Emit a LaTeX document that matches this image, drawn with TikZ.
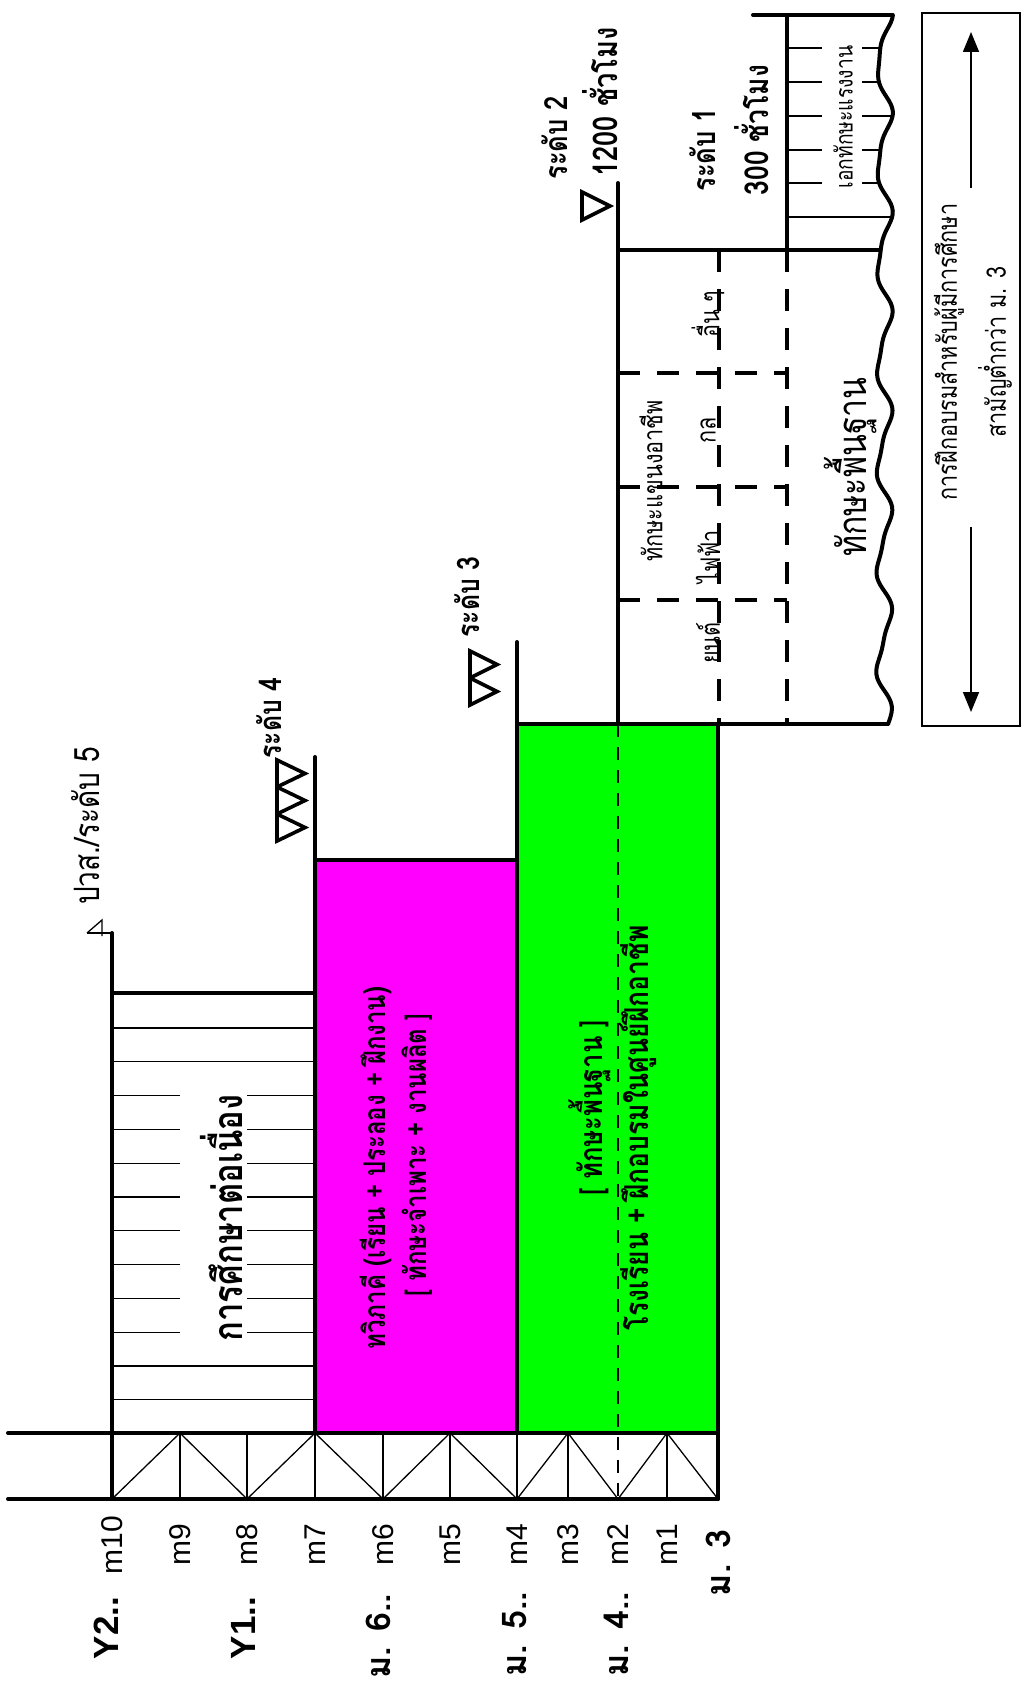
\documentclass[tikz,border=0pt]{standalone}
\usepackage{fontspec}
\usepackage{graphicx}
\setmainfont{Liberation Sans}
\newfontfamily\thai[Script=Thai]{Loma}
\usetikzlibrary{arrows.meta}
\definecolor{mag}{RGB}{255,0,255}
\definecolor{grn}{RGB}{0,255,0}
\newcommand\sq[1]{\scalebox{0.8}[1]{#1}}
\begin{document}
\begin{tikzpicture}[x=0.5pt,y=-0.5pt,
 thk/.style={line width=2pt, line cap=round},
 thn/.style={line width=0.65pt},
 dsh/.style={line width=2pt, dash pattern=on 11pt off 8.5pt},
 dthin/.style={line width=0.65pt, dash pattern=on 6.5pt off 5pt},
 tri/.style={line width=1.8pt, line join=miter},
 lbl/.style={rotate=90, inner sep=0pt, align=center},
 mlab/.style={lbl, font=\fontsize{15}{18}\selectfont},
 ylab/.style={lbl, font=\bfseries\fontsize{17.5}{21}\selectfont},
 tlab/.style={lbl, font=\thai\bfseries\fontsize{17}{20}\selectfont},
 tb/.style={lbl, font=\thai\bfseries\fontsize{#1}{#1}\selectfont},
 tn/.style={lbl, font=\thai\fontsize{#1}{#1}\selectfont},
]
\useasboundingbox (0,0) rectangle (1024,1686);
% fills
\fill[mag] (315,860) rectangle (517,1433);
\fill[grn] (517,724) rectangle (718,1433);
% left hatched box
\foreach \k in {0,1,10,11} \draw[thn] (112,{1028+33.8*\k}) -- (315,{1028+33.8*\k});
\foreach \k in {2,...,9} {\draw[thn] (112,{1028+33.8*\k}) -- (180,{1028+33.8*\k}); \draw[thn] (247,{1028+33.8*\k}) -- (315,{1028+33.8*\k});}
% truss
\foreach \xx in {180,247,315,383,450,517,568,667} \draw[thn] (\xx,1433) -- (\xx,1499);
\draw[thn] (112,1499) -- (180,1433) -- (247,1499) -- (315,1433) -- (383,1499) -- (450,1433) -- (517,1499) -- (568,1433) -- (618,1499) -- (667,1433) -- (718,1499);
\draw[dthin] (618,724) -- (618,1499);
% main thick lines
\draw[thk] (8,1433) -- (718,1433);
\draw[thk] (8,1499) -- (718,1499);
\draw[thk] (112,933) -- (112,1499);
\draw[thk] (718,724) -- (718,1499);
\draw[thk] (112,993) -- (315,993);
\draw[thk] (315,757) -- (315,1433);
\draw[thk] (315,860) -- (517,860);
\draw[thk] (517,642) -- (517,1433);
\draw[thk] (618,183) -- (618,724);
\draw[thk] (787,15) -- (787,250);
\draw[dsh] (719,250) -- (719,724);
\draw[dsh] (787,250) -- (787,724);
\foreach \yy in {373,487,600} \draw[dsh] (618,\yy) -- (787,\yy);
% right region clipped at wave
\begin{scope}
\clip (500,0) -- plot[variable=\t,domain=0:740,samples=200] ({884+7*cos((\t-15)*3.6)+2*sin(\t*7.3)},\t) -- (500,740) -- cycle;
\draw[thk] (517,724) -- (950,724);
\draw[thk] (618,250) -- (950,250);
\draw[thk] (753,15) -- (950,15);
\foreach \yy in {48,82,116,150,183} {\draw[thn] (787,\yy) -- (822,\yy); \draw[thn] (862,\yy) -- (950,\yy);}
\draw[thn] (787,217) -- (950,217);
\end{scope}
\draw[thk] plot[variable=\t,domain=15:724,samples=200,smooth] ({884+7*cos((\t-15)*3.6)+2*sin(\t*7.3)},\t);
% level markers
\draw[tri] (582,192) -- (610,206) -- (582,220) -- cycle;
\foreach \k in {0,1} \draw[tri] (470,{651+27*\k}) -- (497,{664.5+27*\k}) -- (470,{678+27*\k}) -- cycle;
\foreach \k in {0,1,2} \draw[tri] (277,{760+27*\k}) -- (305,{773.5+27*\k}) -- (277,{787+27*\k}) -- cycle;
\draw[thn] (87,933) -- (102,920) -- (102,936);
\draw[thn] (87,933) -- (112,933);
% right box
\draw[line width=0.8pt] (922,13) rectangle (1020,726);
\coordinate (a1) at (971,188); \coordinate (a1e) at (971,32);
\coordinate (a2) at (971,527); \coordinate (a2e) at (971,712);
\draw[line width=0.8pt,-{Triangle[length=10pt,width=8pt]}] (a1) -- (a1e);
\draw[line width=0.8pt,-{Triangle[length=10pt,width=8pt]}] (a2) -- (a2e);
% texts
\node[tb=20.5] (edu) at (222,1218) {\sq{การศึกษาต่อเนื่อง}};
\node[tb=15] (dvt1) at (376,1168) {\sq{ทวิภาคี (เรียน + ประลอง + ฝึกงาน)}};
\node[tb=15] (dvt2) at (417,1155) {\sq{[ ทักษะจำเพาะ + งานผลิต ]}};
\node[tb=16] (g1) at (590,1108) {\sq{[ ทักษะพื้นฐาน ]}};
\node[tb=16.5] (g2) at (638,1128) {\sq{โรงเรียน + ฝึกอบรมในศูนย์ฝึกอาชีพ}};
\node[tn=13.5] (r1) at (651,481) {\sq{ทักษะแขนงอาชีพ}};
\node[tn=13.5] (c1) at (708,643) {\sq{ยนต์}};
\node[tn=13.5] (c2) at (708,557) {\sq{ไฟฟ้า}};
\node[tn=13.5] (c3) at (708,430) {\sq{กล}};
\node[tn=13.5] (c4) at (708,314) {\sq{อื่น ๆ}};
\node[tn=20] (basic) at (850,467) {\sq{ทักษะพื้นฐาน}};
\node[tb=16] (lv1) at (703,150) {\sq{ระดับ 1}};
\node[tb=16.5] (h300) at (752,130) {\sq{300 ชั่วโมง}};
\node[tb=16] (lv2) at (555,138) {\sq{ระดับ 2}};
\node[tb=17] (h1200) at (600,102) {\sq{1200 ชั่วโมง}};
\node[tn=12] (ek) at (843,117) {\sq{เอกทักษะแรงงาน}};
\node[tn=13.5] (bx1) at (949,352) {\sq{การฝึกอบรมสำหรับผู้มีการศึกษา}};
\node[tn=13.5] (bx2) at (995,352) {\sq{สามัญต่ำกว่า ม. 3}};
\node[tn=17.5] (lv5) at (86,826) {\sq{ปวส./ระดับ 5}};
\node[tb=15.5] (lv4) at (269,718) {\sq{ระดับ 4}};
\node[tb=15.5] (lv3) at (467,597) {\sq{ระดับ 3}};
% axis labels
\node[mlab] (m10) at (112,1545) {m10};
\node[mlab] (m9) at (180,1545) {m9};
\node[mlab] (m8) at (247,1545) {m8};
\node[mlab] (m7) at (315,1545) {m7};
\node[mlab] (m6) at (383,1545) {m6};
\node[mlab] (m5) at (450,1545) {m5};
\node[mlab] (m4) at (517,1545) {m4};
\node[mlab] (m3) at (568,1545) {m3};
\node[mlab] (m2) at (618,1545) {m2};
\node[mlab] (m1) at (667,1545) {m1};
\node[ylab] (y2) at (106,1628) {Y2..};
\node[ylab] (y1) at (243,1628) {Y1..};
\node[tlab] (s6) at (378,1636) {ม. 6..};
\node[tlab] (s5) at (515,1634) {ม. 5..};
\node[tlab] (s4) at (616,1634) {ม. 4..};
\node[tlab] (s3) at (718,1563) {ม. 3};
\end{tikzpicture}
\end{document}
